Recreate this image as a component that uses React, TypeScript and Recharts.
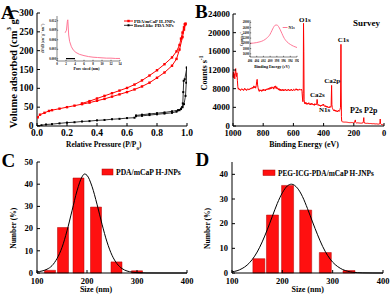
import React from 'react';
import { ComposedChart, LineChart, Line, Bar, XAxis, YAxis } from 'recharts';

const FONT = '"Liberation Serif", "Times New Roman", Times, serif';
const RED = '#ff0000';
const PINK = '#ff6a8c';

// ---------- Panel A : N2 isotherms ----------
const pdaAdsP = [0.005, 0.02, 0.05, 0.08, 0.1, 0.15, 0.2, 0.25, 0.3, 0.35, 0.4, 0.45, 0.5, 0.55, 0.6, 0.65, 0.7, 0.75, 0.8, 0.85, 0.9, 0.93, 0.95, 0.97, 0.98, 0.99];
const pdaAdsV = [23, 30, 35, 40, 42, 46, 50, 54, 58, 62, 67, 72, 78, 84, 90, 97, 105, 115, 128, 142, 160, 178, 203, 236, 256, 270];
const pdaDesP = [0.99, 0.985, 0.98, 0.97, 0.96, 0.95, 0.93, 0.9, 0.85, 0.8, 0.75, 0.7, 0.65, 0.6, 0.55, 0.5, 0.45, 0.4, 0.35, 0.3];
const pdaDesV = [272, 270, 262, 248, 232, 215, 198, 182, 164, 148, 134, 121, 110, 101, 94, 87, 80, 73, 66, 60];
const bowlAdsP = [0.005, 0.03, 0.06, 0.1, 0.15, 0.2, 0.25, 0.3, 0.35, 0.4, 0.45, 0.5, 0.55, 0.6, 0.65, 0.66, 0.7, 0.75, 0.8, 0.85, 0.9, 0.93, 0.95, 0.96, 0.97, 0.98, 0.99, 0.995, 0.999];
const bowlAdsV = [0, 2, 4, 5, 7, 9, 10, 12, 13, 15, 16, 18, 19, 21, 22, 26, 27, 29, 31, 33, 35, 38, 42, 45, 50, 58, 80, 115, 155];
const bowlDesP = [0.999, 0.985, 0.978, 0.975, 0.972, 0.968, 0.96, 0.94, 0.9, 0.85, 0.8, 0.75, 0.7, 0.66];
const bowlDesV = [155, 124, 120, 90, 60, 50, 46, 42, 39, 36, 34, 32, 30, 28];
const aXTicks = [0, 0.2, 0.4, 0.6, 0.8, 1.0];
const aYTicks = [0, 50, 100, 150, 200, 250, 300];

// inset A : pore size distribution
const poreSize = [1.8, 2.1, 2.3, 2.4, 2.6, 2.8, 3.2, 3.6, 4.2, 5, 6, 7, 8, 9, 10, 11, 12, 13, 14];
const poreDvdd = [0.0082, 0.009, 0.0118, 0.0123, 0.0075, 0.0055, 0.0038, 0.0028, 0.002, 0.0014, 0.001, 0.0007, 0.0005, 0.0004, 0.0003, 0.0002, 0.0002, 0.0001, 0.0001];
const bowlPoreSize = [2.0, 2.5, 3.0, 3.5, 4.0];
const bowlPoreDvdd = [0.00005, 0.00005, 0.00005, 0.00005, 0.00005];
const inAXTicks = [0, 2, 4, 6, 8, 10, 12, 14];
const inAYTicks = [0, 0.003, 0.006, 0.009, 0.012];

// ---------- Panel B : XPS survey ----------
const bEnergy = [1000, 997, 994, 991, 988, 985, 982, 980, 977, 974, 971, 968, 965, 962, 958, 954, 950, 946, 942, 938, 934, 930, 926, 922, 918, 914, 910, 906, 902, 898, 894, 890, 886, 882, 878, 874, 870, 866, 862, 858, 854, 850, 846, 843, 840, 837, 834, 830, 826, 822, 818, 814, 810, 806, 802, 798, 794, 790, 786, 782, 778, 774, 770, 766, 762, 758, 754, 750, 746, 742, 738, 734, 730, 726, 722, 718, 714, 710, 706, 702, 698, 694, 690, 686, 682, 678, 674, 670, 666, 662, 658, 654, 650, 646, 642, 638, 634, 630, 626, 622, 618, 614, 610, 606, 602, 598, 594, 590, 586, 582, 578, 574, 570, 566, 562, 558, 554, 550, 546, 543, 540, 537, 535, 533, 531, 529, 526, 522, 518, 514, 510, 506, 502, 498, 494, 490, 486, 482, 478, 474, 470, 466, 462, 458, 454, 450, 446, 443, 440, 436, 432, 428, 424, 420, 416, 412, 408, 404, 400, 397, 394, 390, 386, 382, 378, 374, 370, 366, 362, 358, 354, 350, 347, 345, 343, 340, 337, 334, 330, 326, 322, 318, 314, 310, 306, 302, 298, 294, 291, 288, 286, 285, 284, 282, 280, 276, 272, 268, 264, 260, 256, 252, 248, 244, 240, 236, 232, 228, 224, 220, 216, 212, 208, 204, 200, 196, 192, 190, 188, 184, 180, 176, 172, 168, 164, 160, 156, 152, 148, 144, 140, 137, 134, 132, 129, 125, 120, 115, 110, 105, 100, 95, 90, 85, 80, 75, 70, 65, 60, 55, 50, 45, 40, 35, 30, 27, 25, 23, 20, 15, 10, 5, 2];
const bCounts = [10400, 11600, 10300, 11200, 10100, 11800, 12300, 11000, 10600, 11400, 9800, 8400, 7900, 8100, 7700, 7900, 7600, 7800, 8000, 7700, 7900, 7600, 7800, 8100, 7700, 7900, 7600, 7800, 8000, 7700, 7900, 7800, 8100, 7900, 8200, 8000, 8300, 8100, 8600, 8200, 8500, 8100, 8700, 9600, 10000, 8800, 8200, 7600, 7400, 7800, 7500, 7700, 7400, 7800, 7500, 7900, 7600, 7800, 7500, 7900, 7700, 8000, 7800, 8100, 7800, 8200, 7900, 8300, 8000, 8400, 8100, 8300, 7900, 8500, 8200, 8600, 8000, 8400, 7900, 8100, 7700, 8000, 7600, 7900, 7500, 7800, 7600, 7900, 7500, 7800, 7600, 7900, 7700, 7500, 7800, 7600, 7900, 7700, 7500, 7800, 7600, 7900, 7700, 7500, 7800, 7900, 7600, 7800, 7700, 8000, 7700, 7900, 7600, 7800, 7700, 7900, 7800, 7700, 7900, 7400, 6000, 5200, 7000, 22000, 16000, 5600, 4800, 5100, 4700, 5000, 4600, 4900, 4700, 5000, 4600, 4800, 4500, 4900, 4600, 4800, 4500, 4700, 4400, 4800, 4500, 4700, 4600, 5700, 4800, 4400, 4600, 4300, 4500, 4200, 4500, 4300, 4600, 4400, 4700, 4300, 4200, 4400, 4100, 4300, 4000, 4200, 3900, 4100, 3900, 4200, 4000, 4300, 8700, 4600, 4000, 3700, 3500, 3300, 3500, 3200, 3400, 3100, 3300, 3000, 3200, 3400, 3100, 3300, 3600, 4000, 12000, 17500, 9000, 2000, 1000, 900, 950, 850, 900, 800, 850, 780, 820, 760, 800, 740, 780, 720, 760, 700, 740, 690, 720, 680, 700, 720, 1100, 1300, 800, 680, 650, 680, 640, 660, 620, 650, 610, 640, 600, 630, 650, 900, 1800, 900, 620, 580, 600, 560, 580, 540, 560, 520, 540, 500, 520, 480, 500, 460, 480, 440, 460, 420, 440, 400, 420, 600, 1500, 500, 380, 320, 280, 250, 220];
const bXTicks = [0, 200, 400, 600, 800, 1000];
const bYTicks = [0, 4000, 8000, 12000, 16000, 20000, 24000];

// inset B : N1s
const n1sEnergy = [406, 405, 404, 403, 402, 401, 400, 399.5, 399, 398.5, 398, 397.5, 397, 396.5, 396, 395, 394, 393, 392];
const n1sCounts = [2000, 2010, 2030, 2060, 2110, 2200, 2350, 2480, 2610, 2690, 2700, 2640, 2520, 2380, 2240, 2060, 1960, 1890, 1840];
const inBXTicks = [392, 394, 396, 398, 400, 402, 404, 406];
const inBYTicks = [1600, 1800, 2000, 2200, 2400, 2600, 2800];

// ---------- Panel C / D : size distributions ----------
const cSize = [126, 152, 183, 218, 259, 300];
const cNumber = [1.2, 20.5, 42.8, 29.7, 5.0, 1.0];
const cFitX = [100, 110, 120, 130, 140, 150, 160, 170, 180, 190, 195, 200, 210, 220, 230, 240, 250, 260, 270, 280, 290, 300, 320, 350, 400];
const cFitY = [0.5, 0.9, 1.7, 3.3, 6.5, 11.5, 19, 28, 37, 43.3, 44.6, 44, 39, 31, 22, 14, 8, 4.2, 2, 0.9, 0.4, 0.15, 0.02, 0, 0];
const dSize = [153, 180, 210, 246, 285, 332];
const dNumber = [5.8, 23.5, 35.5, 25.5, 8.3, 1.0];
const dFitX = [100, 110, 120, 130, 140, 150, 160, 170, 180, 190, 200, 210, 218, 230, 240, 250, 260, 270, 280, 290, 300, 310, 320, 330, 340, 360, 380, 400];
const dFitY = [0.5, 0.9, 1.8, 3.2, 5.4, 8.5, 12.6, 17.5, 22.9, 28.2, 32.5, 35.3, 36, 34.4, 31, 26.1, 20.7, 15.5, 10.8, 7.1, 4.4, 2.6, 1.4, 0.7, 0.3, 0.06, 0.01, 0];
const sizeTicks = [100, 200, 300, 400];
const cYTicks = [0, 10, 20, 30, 40, 50];
const dYTicks = [0, 10, 20, 30, 40];

const zip = (xs: number[], ys: number[]) => xs.map((x, i) => ({ x, y: ys[i] }));

type TO = { fs: number; off: number; len: number; sw?: number; fmt?: (v: number) => string };
const bottomTick = (o: TO) => (p: any) => (
  <g>
    <line x1={p.x} x2={p.x} y1={p.y} y2={p.y - o.len} stroke="#000" strokeWidth={o.sw ?? 1} />
    <text x={p.x} y={p.y + o.off} textAnchor="middle" fontSize={o.fs} fontWeight="bold" fontFamily={FONT} fill="#000">
      {o.fmt ? o.fmt(p.payload.value) : String(p.payload.value)}
    </text>
  </g>
);
const leftTick = (o: TO) => (p: any) => (
  <g>
    <line x1={p.x} x2={p.x + o.len} y1={p.y} y2={p.y} stroke="#000" strokeWidth={o.sw ?? 1} />
    <text x={p.x - o.off} y={p.y} dy={o.fs * 0.33} textAnchor="end" fontSize={o.fs} fontWeight="bold" fontFamily={FONT} fill="#000">
      {o.fmt ? o.fmt(p.payload.value) : String(p.payload.value)}
    </text>
  </g>
);

const frame = (xd: [number, number], yd: [number, number], sw = 1) => [
  <XAxis key="xt" xAxisId="top" orientation="top" type="number" domain={xd} height={0} tick={false} tickLine={false} axisLine={{ stroke: '#000', strokeWidth: sw }} />,
  <YAxis key="yr" yAxisId="right" orientation="right" type="number" domain={yd} width={0} tick={false} tickLine={false} axisLine={{ stroke: '#000', strokeWidth: sw }} />,
];

const sq = (color: string, s: number) => (p: any) =>
  p.cx == null ? <g key={p.index} /> : <rect key={p.index} x={p.cx - s / 2} y={p.cy - s / 2} width={s} height={s} fill={color} />;

const T = (props: any) => <text fontFamily={FONT} fontWeight="bold" fill="#000" {...props} />;
const Sup = ({ c, fs }: { c: string; fs: number }) => <tspan baselineShift="super" fontSize={fs}>{c}</tspan>;

const abs = (left: number, top: number): React.CSSProperties => ({ position: 'absolute', left, top });

export default function App() {
  return (
    <div style={{ position: 'fixed', left: 0, top: 0, width: 392, height: 298, background: '#fff', overflow: 'hidden' }}>
      {/* Panel A */}
      <div style={abs(0, 0)}>
        <ComposedChart width={195} height={150} margin={{ top: 13, right: 8, bottom: 0, left: 0 }}>
          <XAxis type="number" dataKey="x" domain={[0, 1]} ticks={aXTicks} interval={0} height={24} tickSize={0} tickMargin={0}
            axisLine={{ stroke: '#000' }} tickLine={false} tick={bottomTick({ fs: 9.5, off: 10.3, len: 3, fmt: (v) => v.toFixed(1) })} allowDataOverflow />
          <YAxis type="number" domain={[0, 300]} ticks={aYTicks} interval={0} width={37} tickSize={0} tickMargin={0}
            axisLine={{ stroke: '#000' }} tickLine={false} tick={leftTick({ fs: 9.5, off: 3.4, len: 3 })} allowDataOverflow />
          {frame([0, 1], [0, 300])}
          <Line data={zip(bowlAdsP, bowlAdsV)} dataKey="y" stroke="#000" strokeWidth={0.8} dot={sq('#000', 2)} isAnimationActive={false} />
          <Line data={zip(bowlDesP, bowlDesV)} dataKey="y" stroke="#000" strokeWidth={0.8} dot={sq('#000', 2)} isAnimationActive={false} />
          <Line data={zip(pdaAdsP, pdaAdsV)} dataKey="y" stroke={RED} strokeWidth={1} dot={sq(RED, 2.4)} isAnimationActive={false} />
          <Line data={zip(pdaDesP, pdaDesV)} dataKey="y" stroke={RED} strokeWidth={1} dot={sq(RED, 2.4)} isAnimationActive={false} />
        </ComposedChart>
      </div>
      {/* Inset A */}
      <div style={abs(40, 14)}>
        <ComposedChart width={82} height={59} margin={{ top: 2, right: 2, bottom: 0, left: 0 }}>
          <XAxis type="number" dataKey="x" domain={[0, 14]} ticks={inAXTicks} interval={0} height={12} tickSize={0} tickMargin={0}
            axisLine={{ stroke: '#333', strokeWidth: 0.6 }} tickLine={false} tick={bottomTick({ fs: 3.2, off: 3.6, len: 1.2, sw: 0.5 })} />
          <YAxis type="number" domain={[-0.0007, 0.0135]} ticks={inAYTicks} interval={0} width={17} tickSize={0} tickMargin={0}
            axisLine={{ stroke: '#333', strokeWidth: 0.6 }} tickLine={false} tick={leftTick({ fs: 3.1, off: 0.8, len: 1.2, sw: 0.5, fmt: (v) => v.toFixed(3) })} />
          {frame([0, 14], [-0.0007, 0.0135], 0.6)}
          <Line data={zip(bowlPoreSize, bowlPoreDvdd)} dataKey="y" stroke="#000" strokeWidth={1.2} dot={false} isAnimationActive={false} />
          <Line data={zip(poreSize, poreDvdd)} dataKey="y" stroke={PINK} strokeWidth={0.9} dot={false} isAnimationActive={false} />
        </ComposedChart>
      </div>

      {/* Panel B */}
      <div style={abs(195, 0)}>
        <LineChart width={197} height={150} margin={{ top: 14, right: 8, bottom: 0, left: 0 }} data={zip(bEnergy, bCounts)}>
          <XAxis type="number" dataKey="x" domain={[0, 1000]} reversed ticks={bXTicks} interval={0} height={24} tickSize={0} tickMargin={0}
            axisLine={{ stroke: '#000' }} tickLine={false} tick={bottomTick({ fs: 8.5, off: 9.8, len: 3 })} />
          <YAxis type="number" domain={[0, 24000]} ticks={bYTicks} interval={0} width={38} tickSize={0} tickMargin={0}
            axisLine={{ stroke: '#000' }} tickLine={false} tick={leftTick({ fs: 8.8, off: 3, len: 3 })} />
          {frame([0, 1000], [0, 24000])}
          <Line dataKey="y" stroke={RED} strokeWidth={1} dot={false} isAnimationActive={false} />
        </LineChart>
      </div>
      {/* Inset B */}
      <div style={abs(232, 18)}>
        <LineChart width={67} height={49} margin={{ top: 2, right: 2, bottom: 0, left: 0 }} data={zip(n1sEnergy, n1sCounts)}>
          <XAxis type="number" dataKey="x" domain={[392, 406]} reversed ticks={inBXTicks} interval={0} height={10} tickSize={0} tickMargin={0}
            axisLine={{ stroke: '#333', strokeWidth: 0.6 }} tickLine={false} tick={bottomTick({ fs: 3.1, off: 5, len: 1.2, sw: 0.5 })} />
          <YAxis type="number" domain={[1480, 2890]} ticks={inBYTicks} interval={0} width={18} tickSize={0} tickMargin={0}
            axisLine={{ stroke: '#333', strokeWidth: 0.6 }} tickLine={false} tick={leftTick({ fs: 3.1, off: 1, len: 1.2, sw: 0.5 })} />
          {frame([392, 406], [1480, 2890], 0.6)}
          <Line dataKey="y" type="monotone" stroke={PINK} strokeWidth={0.9} dot={false} isAnimationActive={false} />
        </LineChart>
      </div>

      {/* Panel C */}
      <div style={abs(0, 148)}>
        <ComposedChart width={195} height={150} margin={{ top: 14, right: 8, bottom: 0, left: 0 }} data={zip(cSize, cNumber)}>
          <XAxis type="number" dataKey="x" domain={[100, 400]} ticks={sizeTicks} interval={0} height={25} tickSize={0} tickMargin={0}
            axisLine={{ stroke: '#000' }} tickLine={false} tick={bottomTick({ fs: 8.5, off: 10.6, len: 3 })} />
          <XAxis xAxisId="fit" type="number" dataKey="x" domain={[100, 400]} hide />
          <YAxis type="number" domain={[0, 50]} ticks={cYTicks} interval={0} width={37} tickSize={0} tickMargin={0}
            axisLine={{ stroke: '#000' }} tickLine={false} tick={leftTick({ fs: 8.5, off: 4, len: 3 })} />
          {frame([100, 400], [0, 50])}
          <Bar dataKey="y" barSize={11} fill="#ff1010" stroke="#b00000" strokeWidth={0.5} isAnimationActive={false} />
          <Line xAxisId="fit" data={zip(cFitX, cFitY)} dataKey="y" type="monotone" stroke="#000" strokeWidth={1} dot={false} isAnimationActive={false} />
        </ComposedChart>
      </div>

      {/* Panel D */}
      <div style={abs(195, 148)}>
        <ComposedChart width={197} height={150} margin={{ top: 14, right: 9, bottom: 0, left: 0 }} data={zip(dSize, dNumber)}>
          <XAxis type="number" dataKey="x" domain={[100, 400]} ticks={sizeTicks} interval={0} height={25} tickSize={0} tickMargin={0}
            axisLine={{ stroke: '#000' }} tickLine={false} tick={bottomTick({ fs: 8.5, off: 10.6, len: 3 })} />
          <XAxis xAxisId="fit" type="number" dataKey="x" domain={[100, 400]} hide />
          <YAxis type="number" domain={[0, 45]} ticks={dYTicks} interval={0} width={37} tickSize={0} tickMargin={0}
            axisLine={{ stroke: '#000' }} tickLine={false} tick={leftTick({ fs: 8.5, off: 4, len: 3 })} />
          {frame([100, 400], [0, 45])}
          <Bar dataKey="y" barSize={12} fill="#ff1010" stroke="#b00000" strokeWidth={0.5} isAnimationActive={false} />
          <Line xAxisId="fit" data={zip(dFitX, dFitY)} dataKey="y" type="monotone" stroke="#000" strokeWidth={1} dot={false} isAnimationActive={false} />
        </ComposedChart>
      </div>

      {/* Text overlay */}
      <svg width={392} height={298} style={{ position: 'absolute', left: 0, top: 0, pointerEvents: 'none' }}>
        <T x={1} y={18.5} fontSize={19}>A</T>
        <T x={195} y={17.5} fontSize={19}>B</T>
        <T x={1.5} y={166.5} fontSize={19}>C</T>
        <T x={195.5} y={166.3} fontSize={19}>D</T>

        {/* A */}
        <T transform="translate(13,69) rotate(-90)" textAnchor="middle" dominantBaseline="central" fontSize={10.5}>
          Volume adsorbed (cm<Sup c="3" fs={7} /> g<Sup c="-1" fs={7} />)
        </T>
        <T x={103.7} y={147} textAnchor="middle" fontSize={7.4}>
          Relative Pressure (P/P<tspan baselineShift="sub" fontSize={5}>0</tspan>)
        </T>
        <line x1={124} x2={133} y1={21} y2={21} stroke={RED} strokeWidth={1} />
        <rect x={127.3} y={19.8} width={2.4} height={2.4} fill={RED} />
        <T x={134} y={22.6} fontSize={4.8}>PDA/mCaP H-JNPs</T>
        <line x1={124} x2={133} y1={25.3} y2={25.3} stroke="#000" strokeWidth={0.8} />
        <rect x={127.5} y={24.3} width={2} height={2} fill="#000" />
        <T x={134} y={26.9} fontSize={4.8}>Bowl-like PDA NPs</T>
        <T transform="translate(43,38.5) rotate(-90)" textAnchor="middle" dominantBaseline="central" fontSize={3.3}>
          dV/dD (cm<Sup c="3" fs={2.4} /> g<Sup c="-1" fs={2.4} /> nm<Sup c="-1" fs={2.4} />)
        </T>
        <T x={86.5} y={70} textAnchor="middle" fontSize={3.9}>Pore sized (nm)</T>

        {/* B */}
        <T transform="translate(204,73) rotate(-90)" textAnchor="middle" dominantBaseline="central" fontSize={8.2}>
          Counts s<Sup c="-1" fs={5.5} />
        </T>
        <T x={304} y={147} textAnchor="middle" fontSize={7.9}>Binding Energy (eV)</T>
        <T x={353} y={25.5} fontSize={9}>Survey</T>
        <T x={299} y={21.5} fontSize={7}>O1s</T>
        <T x={337.7} y={41.5} fontSize={7}>C1s</T>
        <T x={324.3} y={82.7} fontSize={7}>Ca2p</T>
        <T x={310} y={97} fontSize={7}>Ca2s</T>
        <T x={319} y={111.5} fontSize={7}>N1s</T>
        <T x={350} y={112.5} fontSize={8}>P2s P2p</T>
        <T transform="translate(242.2,39) rotate(-90)" textAnchor="middle" dominantBaseline="central" fontSize={3.3}>
          Counts s<Sup c="-1" fs={2.4} />
        </T>
        <T x={272} y={67.5} textAnchor="middle" fontSize={4}>Binding Energy (eV)</T>
        <line x1={282.7} x2={287.5} y1={27.5} y2={27.5} stroke={PINK} strokeWidth={0.9} />
        <T x={288.5} y={28.8} fontSize={3.8}>N1s</T>

        {/* C */}
        <rect x={102} y={169} width={11} height={6} fill="#ff1010" stroke="#b00000" strokeWidth={0.5} />
        <T x={116} y={175} fontSize={7.6}>PDA/mCaP H-JNPs</T>
        <T x={96} y={292} textAnchor="middle" fontSize={8}>Size (nm)</T>
        <T transform="translate(13,228.3) rotate(-90)" textAnchor="middle" dominantBaseline="central" fontSize={7.5}>Number (%)</T>

        {/* D */}
        <rect x={263} y={170} width={12} height={5.5} fill="#ff1010" stroke="#b00000" strokeWidth={0.5} />
        <T x={278} y={175.5} fontSize={7.3}>PEG-ICG-PDA/mCaP H-JNPs</T>
        <T x={307.7} y={292} textAnchor="middle" fontSize={8}>Size (nm)</T>
        <T transform="translate(207,228.5) rotate(-90)" textAnchor="middle" dominantBaseline="central" fontSize={7.5}>Number (%)</T>
      </svg>
    </div>
  );
}
